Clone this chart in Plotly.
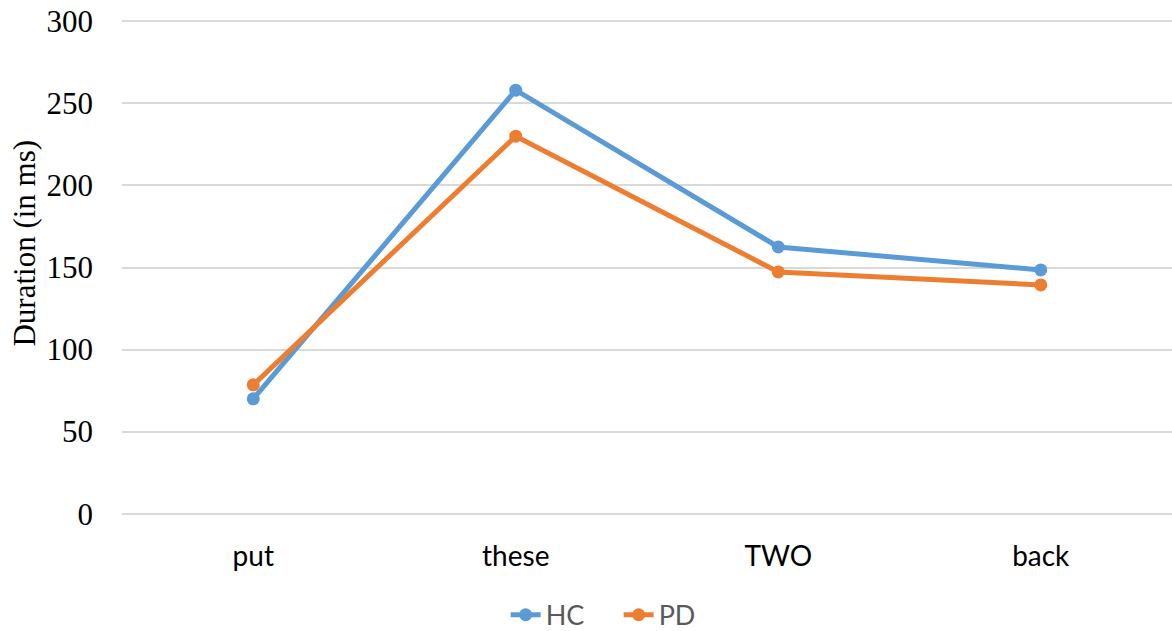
import plotly.graph_objects as go

categories = ["put", "these", "TWO", "back"]
hc = [70, 258, 162.5, 148.5]
pd_vals = [78.5, 230, 147.3, 139.4]
y_ticks = [0, 50, 100, 150, 200, 250, 300]

fig = go.Figure()
fig.add_trace(go.Scatter(x=categories, y=hc, name="HC", mode="lines+markers",
                         line=dict(color="#5B9BD5", width=5), marker=dict(size=13, color="#5B9BD5")))
fig.add_trace(go.Scatter(x=categories, y=pd_vals, name="PD", mode="lines+markers",
                         line=dict(color="#ED7D31", width=5), marker=dict(size=13, color="#ED7D31")))

fig.add_annotation(text="Duration (in ms)", xref="paper", yref="paper",
                   x=-0.0924, y=0.55, xanchor="center", yanchor="middle", textangle=-90,
                   showarrow=False,
                   font=dict(family="Liberation Serif, Times New Roman, serif", size=31, color="black"))

fig.update_layout(
    width=1172, height=631,
    margin=dict(l=122, r=0, t=18, b=114, autoexpand=False),
    plot_bgcolor="white", paper_bgcolor="white",
    showlegend=True,
    legend=dict(orientation="h", x=0.473, xanchor="center", yref="container", y=0.025, yanchor="middle",
                font=dict(family="Lato, Noto Sans, sans-serif", size=27, color="#595959"),
                entrywidth=68, tracegroupgap=0),
    xaxis=dict(type="category", range=[-0.5, 3.5], showgrid=False, zeroline=False,
               showline=False, ticks="", ticklabelstandoff=20,
               tickfont=dict(family="Lato, Noto Sans, sans-serif", size=28, color="black")),
    yaxis=dict(range=[-2, 302], tickvals=y_ticks, showgrid=True, gridcolor="#D9D9D9",
               gridwidth=1.5, zeroline=False, showline=False, ticks="", ticklabelstandoff=28,
               tickfont=dict(family="Liberation Serif, Times New Roman, serif", size=31, color="black")),
)
fig.write_html("out.html")
